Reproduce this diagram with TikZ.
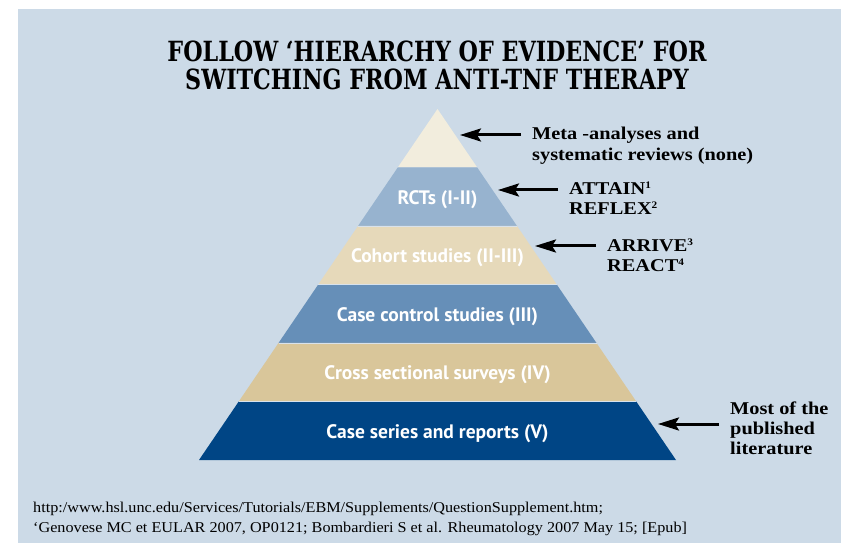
\documentclass[tikz,border=0pt]{standalone}
\usepackage{fontspec}
\setmainfont{Liberation Serif}
\newfontfamily\headfont{DejaVu Serif}[FakeStretch=0.8]
\newfontfamily\bandfont{PT Sans}
\newfontfamily\sidefont{Liberation Serif}[FakeStretch=1.13]
\newfontfamily\reffont{Liberation Serif}[FakeStretch=1.08]
\usetikzlibrary{arrows.meta}

\definecolor{panel}{HTML}{CCDAE7}
\definecolor{tier1}{HTML}{F2EDDD}
\definecolor{tier2}{HTML}{97B3CF}
\definecolor{tier3}{HTML}{E6D9BA}
\definecolor{tier4}{HTML}{668FB8}
\definecolor{tier5}{HTML}{D9C69A}
\definecolor{tier6}{HTML}{004585}
\definecolor{seam}{HTML}{D8E2EC}

\newcommand{\supnum}[1]{\textsuperscript{\fontsize{10}{10}\selectfont #1}}

\tikzset{
  headline/.style={font=\headfont\bfseries\fontsize{27.8}{28}\selectfont, inner sep=0pt, align=center},
  bandlabel/.style={font=\bandfont\bfseries\fontsize{19.5}{20}\selectfont, text=white, inner sep=0pt, anchor=base},
  sidelabel/.style={font=\sidefont\bfseries\fontsize{18}{20}\selectfont, anchor=base west, inner sep=0pt},
  refline/.style={font=\reffont\fontsize{15}{18}\selectfont, anchor=base west, inner sep=0pt},
  pointer/.style={line width=3pt, -{Stealth[length=21pt,width=13pt,inset=4pt]}},
}

\begin{document}
\begin{tikzpicture}[x=1pt,y=-1pt]
\useasboundingbox (0,0) rectangle (841,545);
\fill[white] (0,0) rectangle (841,545);
\fill[panel] (18,9) rectangle (841,543);

% heading
\node[headline] (title) at (437,65)
  {FOLLOW ‘HIERARCHY OF EVIDENCE’ FOR\\[0pt]SWITCHING FROM ANTI-TNF THERAPY};

% pyramid tiers, apex (437.5,109), base 199..676 at y=460
\fill[tier1] (437.5,109) -- (477.25,167.5) -- (397.75,167.5) -- cycle;
\fill[tier2] (397.75,167.5) -- (477.25,167.5) -- (517,226) -- (358,226) -- cycle;
\fill[tier3] (358,226) -- (517,226) -- (556.75,284.5) -- (318.25,284.5) -- cycle;
\fill[tier4] (318.25,284.5) -- (556.75,284.5) -- (596.5,343) -- (278.5,343) -- cycle;
\fill[tier5] (278.5,343) -- (596.5,343) -- (636.25,401.5) -- (238.75,401.5) -- cycle;
\fill[tier6] (238.75,401.5) -- (636.25,401.5) -- (676,460) -- (199,460) -- cycle;
\foreach \ya/\xl/\xr in {226/358/517, 284.5/318.25/556.75, 343/278.5/596.5, 401.5/238.75/636.25}
  \draw[seam, line width=0.8pt] (\xl,\ya) -- (\xr,\ya);

% tier captions, placed on their baselines
\node[bandlabel] (rct)    at (437.5,204.5) {RCTs (I-II)};
\node[bandlabel] (cohort) at (437.5,263) {Cohort studies (II-III)};
\node[bandlabel] (casec)  at (437.5,321.5) {Case control studies (III)};
\node[bandlabel] (cross)  at (437.5,380) {Cross sectional surveys (IV)};
\node[bandlabel] (series) at (437.5,438.5) {Case series and reports (V)};

% side notes
\node[sidelabel] (meta1) at (532,140) {Meta -analyses and};
\node[sidelabel] (meta2) at (532,161) {systematic reviews (none)};
\node[sidelabel] (rct1) at (569,195) {ATTAIN\supnum{1}};
\node[sidelabel] (rct2) at (569,215) {REFLEX\supnum{2}};
\node[sidelabel] (coh1) at (607,251.5) {ARRIVE\supnum{3}};
\node[sidelabel] (coh2) at (607,271.5) {REACT\supnum{4}};
\node[sidelabel] (lit1) at (730,414) {Most of the};
\node[sidelabel] (lit2) at (730,434) {published};
\node[sidelabel] (lit3) at (730,454) {literature};

% arrow ends next to the pyramid flank
\coordinate (tipA) at (460,135);
\coordinate (tipB) at (498,190);
\coordinate (tipC) at (535,246);
\coordinate (tipD) at (658,424);
\coordinate (tailA) at (521,135);
\coordinate (tailB) at (558,190);
\coordinate (tailC) at (596,246);
\coordinate (tailD) at (719,424);
\draw[pointer] (tailA) -- (tipA);
\draw[pointer] (tailB) -- (tipB);
\draw[pointer] (tailC) -- (tipC);
\draw[pointer] (tailD) -- (tipD);

% sources
\node[refline] (src1) at (33,512) {http:/www.hsl.unc.edu/Services/Tutorials/EBM/Supplements/QuestionSupplement.htm;};
\node[refline] (src2) at (33,532) {‘Genovese MC et EULAR 2007, OP0121; Bombardieri S et al. Rheumatology 2007 May 15; [Epub]};
\end{tikzpicture}
\end{document}
